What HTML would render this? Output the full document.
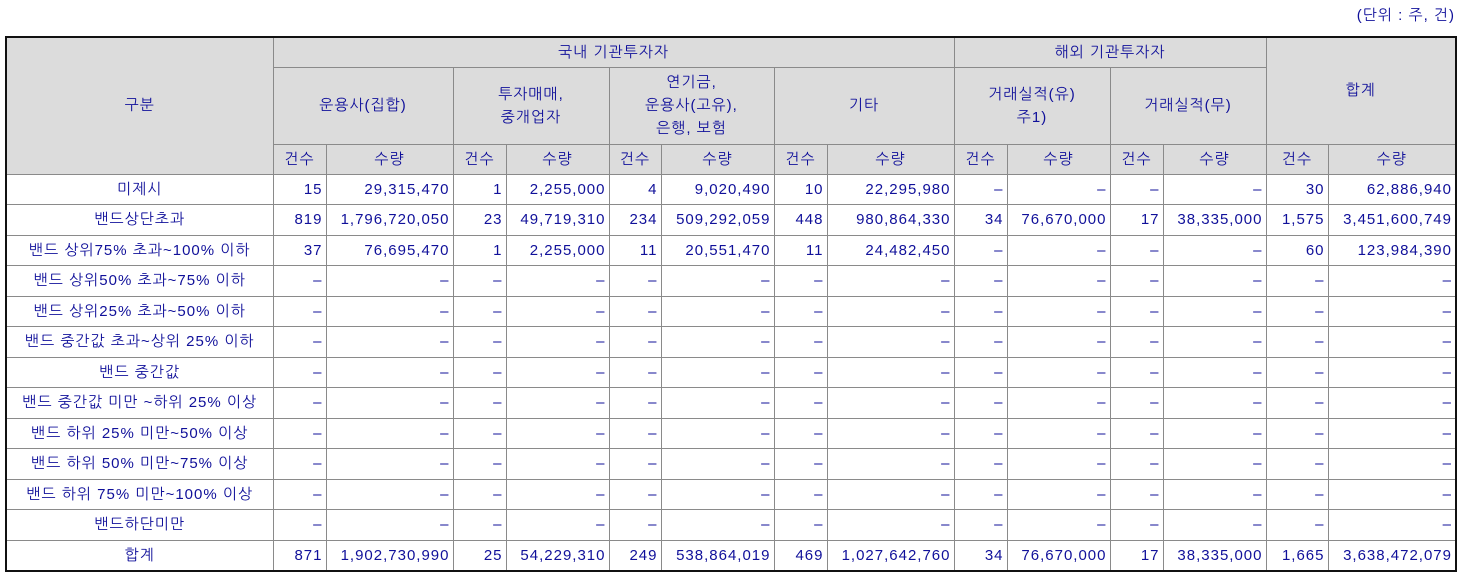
<!DOCTYPE html>
<html><head><meta charset="utf-8">
<style>
body{margin:0;width:1459px;height:578px;background:#fff;position:relative;overflow:hidden;font-family:"Liberation Sans","NanumGothic","Noto Sans CJK KR",sans-serif;font-size:15px;letter-spacing:1px;color:#10109a;}
.unit{position:absolute;right:4px;top:6px;}
table{position:absolute;left:5px;top:36px;border-collapse:collapse;table-layout:fixed;border:2px solid #111;}
td,th{border:1px solid #8a8a8a;padding:0 3px;font-weight:normal;white-space:nowrap;overflow:hidden;}
th{background:#dcdcdc;text-align:center;line-height:23px;}
td{text-align:right;height:29.5px;}
td.l{text-align:center;}
</style></head><body>
<div class="unit">(단위 : 주, 건)</div>
<table>
<colgroup><col style="width:267px"><col style="width:53px"><col style="width:127px"><col style="width:53px"><col style="width:103px"><col style="width:52px"><col style="width:113px"><col style="width:53px"><col style="width:127px"><col style="width:53px"><col style="width:103px"><col style="width:53px"><col style="width:103px"><col style="width:62px"><col style="width:128px"></colgroup>
<tr style="height:30px">
<th rowspan="3">구분</th>
<th colspan="8">국내 기관투자자</th>
<th colspan="4">해외 기관투자자</th>
<th colspan="2" rowspan="2">합계</th></tr>
<tr style="height:77px">
<th colspan="2">운용사(집합)</th>
<th colspan="2">투자매매,<br>중개업자</th>
<th colspan="2">연기금,<br>운용사(고유),<br>은행, 보험</th>
<th colspan="2">기타</th>
<th colspan="2">거래실적(유)<br>주1)</th>
<th colspan="2">거래실적(무)</th></tr>
<tr style="height:30px">
<th>건수</th><th>수량</th><th>건수</th><th>수량</th><th>건수</th><th>수량</th><th>건수</th><th>수량</th><th>건수</th><th>수량</th><th>건수</th><th>수량</th><th>건수</th><th>수량</th></tr>
<tr><td class="l">미제시</td><td>15</td><td>29,315,470</td><td>1</td><td>2,255,000</td><td>4</td><td>9,020,490</td><td>10</td><td>22,295,980</td><td>–</td><td>–</td><td>–</td><td>–</td><td>30</td><td>62,886,940</td></tr>
<tr><td class="l">밴드상단초과</td><td>819</td><td>1,796,720,050</td><td>23</td><td>49,719,310</td><td>234</td><td>509,292,059</td><td>448</td><td>980,864,330</td><td>34</td><td>76,670,000</td><td>17</td><td>38,335,000</td><td>1,575</td><td>3,451,600,749</td></tr>
<tr><td class="l">밴드 상위75% 초과~100% 이하</td><td>37</td><td>76,695,470</td><td>1</td><td>2,255,000</td><td>11</td><td>20,551,470</td><td>11</td><td>24,482,450</td><td>–</td><td>–</td><td>–</td><td>–</td><td>60</td><td>123,984,390</td></tr>
<tr><td class="l">밴드 상위50% 초과~75% 이하</td><td>–</td><td>–</td><td>–</td><td>–</td><td>–</td><td>–</td><td>–</td><td>–</td><td>–</td><td>–</td><td>–</td><td>–</td><td>–</td><td>–</td></tr>
<tr><td class="l">밴드 상위25% 초과~50% 이하</td><td>–</td><td>–</td><td>–</td><td>–</td><td>–</td><td>–</td><td>–</td><td>–</td><td>–</td><td>–</td><td>–</td><td>–</td><td>–</td><td>–</td></tr>
<tr><td class="l">밴드 중간값 초과~상위 25% 이하</td><td>–</td><td>–</td><td>–</td><td>–</td><td>–</td><td>–</td><td>–</td><td>–</td><td>–</td><td>–</td><td>–</td><td>–</td><td>–</td><td>–</td></tr>
<tr><td class="l">밴드 중간값</td><td>–</td><td>–</td><td>–</td><td>–</td><td>–</td><td>–</td><td>–</td><td>–</td><td>–</td><td>–</td><td>–</td><td>–</td><td>–</td><td>–</td></tr>
<tr><td class="l">밴드 중간값 미만 ~하위 25% 이상</td><td>–</td><td>–</td><td>–</td><td>–</td><td>–</td><td>–</td><td>–</td><td>–</td><td>–</td><td>–</td><td>–</td><td>–</td><td>–</td><td>–</td></tr>
<tr><td class="l">밴드 하위 25% 미만~50% 이상</td><td>–</td><td>–</td><td>–</td><td>–</td><td>–</td><td>–</td><td>–</td><td>–</td><td>–</td><td>–</td><td>–</td><td>–</td><td>–</td><td>–</td></tr>
<tr><td class="l">밴드 하위 50% 미만~75% 이상</td><td>–</td><td>–</td><td>–</td><td>–</td><td>–</td><td>–</td><td>–</td><td>–</td><td>–</td><td>–</td><td>–</td><td>–</td><td>–</td><td>–</td></tr>
<tr><td class="l">밴드 하위 75% 미만~100% 이상</td><td>–</td><td>–</td><td>–</td><td>–</td><td>–</td><td>–</td><td>–</td><td>–</td><td>–</td><td>–</td><td>–</td><td>–</td><td>–</td><td>–</td></tr>
<tr><td class="l">밴드하단미만</td><td>–</td><td>–</td><td>–</td><td>–</td><td>–</td><td>–</td><td>–</td><td>–</td><td>–</td><td>–</td><td>–</td><td>–</td><td>–</td><td>–</td></tr>
<tr><td class="l">합계</td><td>871</td><td>1,902,730,990</td><td>25</td><td>54,229,310</td><td>249</td><td>538,864,019</td><td>469</td><td>1,027,642,760</td><td>34</td><td>76,670,000</td><td>17</td><td>38,335,000</td><td>1,665</td><td>3,638,472,079</td></tr>
</table>
</body></html>
